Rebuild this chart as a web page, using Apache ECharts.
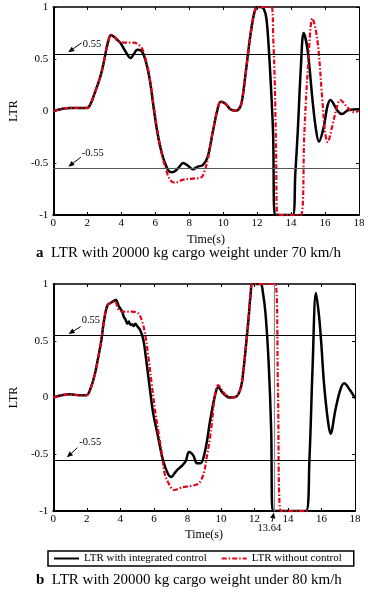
<!DOCTYPE html>
<html>
<head>
<meta charset="utf-8">
<script src="https://cdn.jsdelivr.net/npm/echarts@6/dist/echarts.min.js"></script>
<style>
html,body{margin:0;padding:0;background:#fff;}
#chart{width:368px;height:592px;}
</style>
</head>
<body>
<div id="chart"></div>
<script>
// ---------- data ----------
const xTicks = [0, 2, 4, 6, 8, 10, 12, 14, 16, 18];
const yTicks = [-1, -0.5, 0, 0.5, 1];
const seriesNames = ['LTR with integrated control', 'LTR without control'];
const threshold = 0.55;

// (a) 70 km/h
const timeA_ctrl = [0,0.5,1,1.5,2.0,2.2,2.43,2.63,2.82,3.0,3.2,3.4,3.6,3.8,3.97,4.26,4.55,4.75,4.94,5.13,5.32,5.52,5.71,5.9,6.1,6.29,6.48,6.77,6.96,7.16,7.4,7.64,7.93,8.22,8.51,8.8,9.09,9.38,9.66,9.86,10.14,10.43,10.72,11.01,11.15,11.3,11.45,11.59,11.75,11.88,12.0,12.2,12.4,12.56,12.75,12.94,13.05,13.5,14.1,14.25,14.39,14.58,14.74,14.97,15.26,15.45,15.64,15.93,16.13,16.32,16.5,16.7,17.0,17.38,18.0];
const ltrA_ctrl  = [0,0.02,0.03,0.03,0.03,0.07,0.17,0.26,0.36,0.49,0.65,0.73,0.71,0.68,0.65,0.57,0.51,0.55,0.59,0.586,0.54,0.43,0.27,0.04,-0.18,-0.34,-0.455,-0.57,-0.59,-0.58,-0.54,-0.50,-0.526,-0.56,-0.535,-0.52,-0.44,-0.21,0.01,0.09,0.07,0.016,0.003,0.04,0.14,0.33,0.53,0.71,0.88,0.97,1.0,1.0,0.98,0.875,0.43,-0.21,-1.0,-1.0,-1.0,-0.6,-0.21,0.43,0.75,0.59,0.11,-0.16,-0.295,-0.15,0.04,0.106,0.07,0.01,-0.03,0.01,0.016];
const timeA_none = [0,0.5,1,1.5,2.0,2.2,2.43,2.63,2.82,3.0,3.2,3.4,3.6,3.78,4.17,4.75,5.03,5.23,5.42,5.6,5.8,6.0,6.2,6.4,6.58,6.87,7.16,7.64,8.22,8.7,8.9,9.09,9.25,9.38,9.66,9.86,10.14,10.43,10.72,11.01,11.15,11.3,11.45,11.59,11.75,11.88,12.0,12.5,12.85,12.95,13.04,13.12,13.2,14.0,14.58,14.78,15.0,15.26,15.55,15.84,16.0,16.15,16.42,16.7,16.9,17.29,17.67,18.0];
const ltrA_none  = [0,0.02,0.03,0.03,0.03,0.07,0.17,0.26,0.36,0.49,0.65,0.73,0.72,0.67,0.657,0.657,0.635,0.60,0.51,0.39,0.18,-0.05,-0.26,-0.42,-0.535,-0.66,-0.69,-0.66,-0.65,-0.64,-0.58,-0.47,-0.33,-0.21,0.01,0.09,0.07,0.016,0.003,0.04,0.14,0.33,0.53,0.71,0.88,0.97,1.0,1.0,1.0,0.7,0.27,-0.4,-1.0,-1.0,-1.0,-0.21,0.43,0.89,0.68,0.11,-0.2,-0.3,-0.15,0.04,0.106,0.04,-0.01,0.0];

// (b) 80 km/h
const timeB_ctrl = [0,0.5,1,1.5,1.98,2.2,2.47,2.65,2.85,3.05,3.24,3.44,3.63,3.73,3.92,4.1,4.21,4.3,4.41,4.5,4.6,4.7,4.8,4.9,5.0,5.18,5.37,5.57,5.77,5.96,6.25,6.54,6.83,7.03,7.32,7.71,7.9,8.1,8.35,8.58,8.78,9.07,9.36,9.65,9.84,10.13,10.52,10.91,11.2,11.35,11.49,11.65,11.78,11.88,12.36,12.5,12.66,12.85,13.0,13.09,14.0,15.08,15.28,15.47,15.67,15.86,16.0,16.15,16.38,16.54,16.83,17.12,17.35,17.7,18.0];
const ltrB_ctrl  = [0,0.02,0.028,0.02,0.02,0.07,0.2,0.33,0.49,0.70,0.815,0.835,0.853,0.86,0.80,0.76,0.71,0.69,0.65,0.67,0.64,0.645,0.63,0.65,0.63,0.595,0.51,0.30,0.066,-0.14,-0.345,-0.55,-0.67,-0.70,-0.65,-0.595,-0.56,-0.48,-0.51,-0.58,-0.58,-0.46,-0.20,0.02,0.09,0.037,0.0,0.007,0.095,0.25,0.45,0.70,0.92,1.0,1.0,0.93,0.74,0.30,-0.29,-1.0,-1.0,-1.0,-0.55,0.27,0.92,0.71,0.45,0.125,-0.2,-0.32,-0.11,0.066,0.125,0.066,-0.007];
const timeB_none = [0,0.5,1,1.5,1.98,2.2,2.47,2.65,2.85,3.05,3.24,3.44,3.63,3.73,3.92,4.31,4.7,5.08,5.28,5.47,5.67,5.87,6.06,6.3,6.5,6.64,6.93,7.22,7.71,8.19,8.68,8.97,9.16,9.36,9.5,9.65,9.84,10.13,10.52,10.91,11.2,11.35,11.49,11.65,11.78,11.88,13.25,13.4,13.57,15.2];
const ltrB_none  = [0,0.02,0.028,0.02,0.02,0.07,0.2,0.33,0.49,0.70,0.815,0.835,0.85,0.84,0.77,0.756,0.756,0.74,0.68,0.565,0.36,0.12,-0.1,-0.33,-0.52,-0.67,-0.77,-0.815,-0.79,-0.78,-0.756,-0.67,-0.52,-0.345,-0.17,0.03,0.11,0.05,0.0,0.007,0.095,0.25,0.45,0.70,0.92,1.0,1.0,0.1,-1.0,-1.0];
const markTimeB = 13.2;

// annotation text / arrows (data coordinates)
const annotations = [
  {grid:0, text:'0.55',  textAt:[1.74, 0.645],  from:[1.66, 0.655],  to:[0.88, 0.565]},
  {grid:0, text:'-0.55', textAt:[1.68, -0.405], from:[1.62, -0.445], to:[0.885, -0.535]},
  {grid:1, text:'0.55',  textAt:[1.69, 0.683],  from:[1.63, 0.624],  to:[0.91, 0.56]},
  {grid:1, text:'-0.55', textAt:[1.55, -0.398], from:[1.44, -0.442], to:[0.815, -0.527]},
  {grid:1, text:'13.64', textAt:[12.89, -1.15], from:[13.05, -1.095], to:[13.16, -1.013], center:true}
];

// ---------- chart ----------
const FONT = '"Liberation Serif", "Times New Roman", serif';
const RED = '#e3061a';
const zip = (t, v) => t.map((x, i) => [x, v[i]]);

const grids = [
  {left: 48, right: 9, top: 7, height: 208},
  {left: 46, right: 13, top: 284, height: 227}
];

function mainX(gi, gap) {
  return {
    type: 'value', gridIndex: gi, min: 0, max: 18, interval: 2, position: 'bottom',
    name: 'Time(s)', nameLocation: 'middle', nameGap: gap,
    nameTextStyle: {fontFamily: FONT, fontSize: 12, color: '#000'},
    axisLine: {show: true, onZero: false, lineStyle: {color: '#000', width: 2}},
    axisTick: {show: true, inside: true, length: 3, lineStyle: {color: '#000'}},
    axisLabel: {fontFamily: FONT, fontSize: 11, color: '#000', margin: 3},
    splitLine: {show: false}
  };
}
function sideX(gi) {
  return {
    type: 'value', gridIndex: gi, min: 0, max: 18, interval: 2, position: 'top',
    axisLine: {show: true, onZero: false, lineStyle: {color: '#000', width: 1.5}},
    axisTick: {show: true, inside: true, length: 3, lineStyle: {color: '#000'}},
    axisLabel: {show: false}, splitLine: {show: false}
  };
}
function mainY(gi) {
  return {
    type: 'value', gridIndex: gi, min: -1, max: 1, interval: 0.5, position: 'left',
    name: 'LTR', nameLocation: 'middle', nameGap: 33, nameRotate: 90,
    nameTextStyle: {fontFamily: FONT, fontSize: 12, color: '#000'},
    axisLine: {show: true, onZero: false, lineStyle: {color: '#000', width: 2}},
    axisTick: {show: true, inside: true, length: 3, lineStyle: {color: '#000'}},
    axisLabel: {fontFamily: FONT, fontSize: 11, color: '#000', margin: 5,
      formatter: v => String(v)},
    splitLine: {show: false}
  };
}
function sideY(gi) {
  return {
    type: 'value', gridIndex: gi, min: -1, max: 1, interval: 0.5, position: 'right',
    axisLine: {show: true, onZero: false, lineStyle: {color: '#000', width: 1}},
    axisTick: {show: true, inside: true, length: 3, lineStyle: {color: '#000'}},
    axisLabel: {show: false}, splitLine: {show: false}
  };
}

function thresholdLines(colorNeg, extra) {
  const d = [
    {yAxis: threshold, lineStyle: {color: '#000', width: 1.2, type: 'solid'}},
    {yAxis: -threshold, lineStyle: {color: colorNeg, width: 1.2, type: 'solid'}}
  ];
  return {silent: true, symbol: 'none', label: {show: false}, data: d.concat(extra || [])};
}

const blackStyle = {color: '#000', width: 2.5, type: 'solid'};
const redStyle = {color: RED, width: 2.2, type: [5, 2, 1.5, 2]};

const option = {
  animation: false,
  backgroundColor: '#fff',
  grid: grids,
  xAxis: [mainX(0, 19), sideX(0), mainX(1, 18), sideX(1)],
  yAxis: [mainY(0), sideY(0), mainY(1), sideY(1)],
  title: [
    {text: '{b|a}  LTR with 20000 kg cargo weight under 70 km/h', left: 36, top: 246, padding: 0,
     textStyle: {fontFamily: FONT, fontSize: 15, fontWeight: 'normal', color: '#000',
       rich: {b: {fontFamily: FONT, fontSize: 15, fontWeight: 'bold', color: '#000'}}}},
    {text: '{b|b}  LTR with 20000 kg cargo weight under 80 km/h', left: 36, top: 573, padding: 0,
     textStyle: {fontFamily: FONT, fontSize: 15, fontWeight: 'normal', color: '#000',
       rich: {b: {fontFamily: FONT, fontSize: 15, fontWeight: 'bold', color: '#000'}}}}
  ],
  legend: {
    left: 48, top: 551, orient: 'horizontal',
    data: seriesNames,
    itemWidth: 25, itemHeight: 10, itemGap: 14,
    itemStyle: {opacity: 0},
    padding: [2, 12, 2, 5],
    borderColor: '#000', borderWidth: 1.5,
    textStyle: {fontFamily: FONT, fontSize: 11, color: '#000'}
  },
  series: [
    {name: seriesNames[0], type: 'line', xAxisIndex: 0, yAxisIndex: 0, data: zip(timeA_ctrl, ltrA_ctrl),
     showSymbol: false, symbol: 'none', smooth: 0.35, lineStyle: blackStyle, itemStyle: {color: '#000'},
     markLine: thresholdLines('#555')},
    {name: seriesNames[1], type: 'line', xAxisIndex: 0, yAxisIndex: 0, data: zip(timeA_none, ltrA_none),
     showSymbol: false, symbol: 'none', smooth: 0.35, lineStyle: redStyle, itemStyle: {color: RED}},
    {name: seriesNames[0], type: 'line', xAxisIndex: 2, yAxisIndex: 2, data: zip(timeB_ctrl, ltrB_ctrl),
     showSymbol: false, symbol: 'none', smooth: 0.35, lineStyle: blackStyle, itemStyle: {color: '#000'},
     markLine: thresholdLines('#000', [{xAxis: markTimeB, lineStyle: {color: '#888', width: 1.2, type: 'solid'}}])},
    {name: seriesNames[1], type: 'line', xAxisIndex: 2, yAxisIndex: 2, data: zip(timeB_none, ltrB_none),
     showSymbol: false, symbol: 'none', smooth: 0.35, lineStyle: redStyle, itemStyle: {color: RED}}
  ]
};

const chart = echarts.init(document.getElementById('chart'), null, {renderer: 'canvas'});
chart.setOption(option);

// annotations placed through the axes' own scales
const graphics = [];
annotations.forEach(a => {
  const finder = {xAxisIndex: a.grid * 2, yAxisIndex: a.grid * 2};
  const tp = chart.convertToPixel(finder, a.textAt);
  const p0 = chart.convertToPixel(finder, a.from);
  const p1 = chart.convertToPixel(finder, a.to);
  graphics.push({type: 'text', x: tp[0], y: tp[1], style: {text: a.text, fontFamily: FONT, fontSize: 10.5,
    fill: '#000', align: a.center ? 'center' : 'left', verticalAlign: 'middle'}});
  const dx = p1[0] - p0[0], dy = p1[1] - p0[1];
  const L = Math.sqrt(dx * dx + dy * dy), ux = dx / L, uy = dy / L;
  const hl = 6, hw = 2.6;
  const bx = p1[0] - ux * hl, by = p1[1] - uy * hl;
  graphics.push({type: 'line', shape: {x1: p0[0], y1: p0[1], x2: bx, y2: by}, style: {stroke: '#000', lineWidth: 1}});
  graphics.push({type: 'polygon', shape: {points: [[p1[0], p1[1]], [bx - uy * hw, by + ux * hw], [bx + uy * hw, by - ux * hw]]},
    style: {fill: '#000'}});
});
chart.setOption({graphic: graphics});
</script>
</body>
</html>
